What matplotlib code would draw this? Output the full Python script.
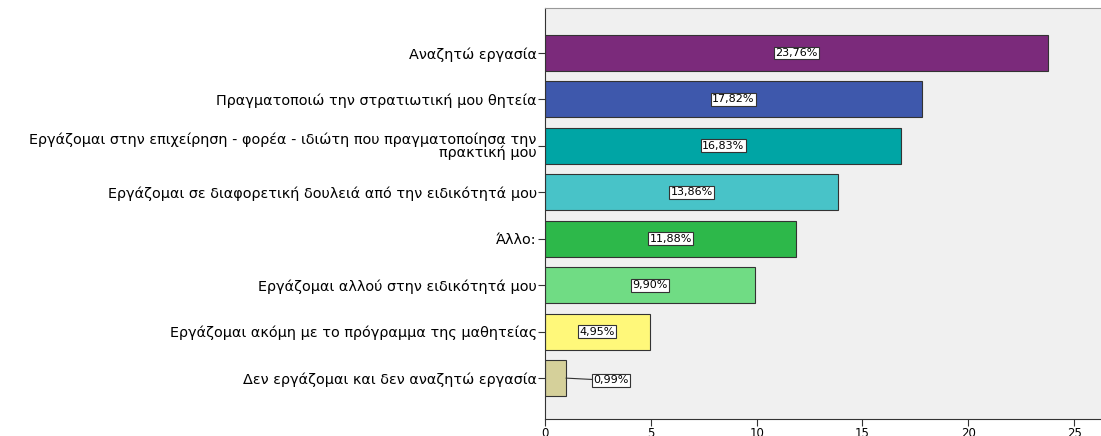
import numpy as np
import matplotlib.pyplot as plt

plt.rcParams['font.family'] = ['DejaVu Sans']

categories = [
    'Αναζητώ εργασία',
    'Πραγματοποιώ την στρατιωτική μου θητεία',
    'Εργάζομαι στην επιχείρηση - φορέα - ιδιώτη που πραγματοποίησα την\nπρακτική μου',
    'Εργάζομαι σε διαφορετική δουλειά από την ειδικότητά μου',
    'Άλλο:',
    'Εργάζομαι αλλού στην ειδικότητά μου',
    'Εργάζομαι ακόμη με το πρόγραμμα της μαθητείας',
    'Δεν εργάζομαι και δεν αναζητώ εργασία',
]
values = [23.76, 17.82, 16.83, 13.86, 11.88, 9.90, 4.95, 0.99]
labels = ['23,76%', '17,82%', '16,83%', '13,86%', '11,88%', '9,90%', '4,95%', '0,99%']
colors = ['#7b2a7b', '#3e58ac', '#00a5a5', '#48c3c8', '#2db84a',
          '#70dc84', '#fff87a', '#d5d09a']
xticks = [0, 5, 10, 15, 20, 25]

fig = plt.figure(figsize=(11.01, 4.36), dpi=100)
ax = fig.add_axes([0.495, 0.039, 0.505, 0.943])
ax.set_facecolor('#f0f0f0')

y = np.arange(len(categories))
ax.barh(y, values, height=0.78, color=colors, edgecolor='#333333', linewidth=0.8, zorder=2)

box = dict(boxstyle='square,pad=0.12', facecolor='white', edgecolor='#333333', linewidth=0.8)
for yi, v, lab in zip(y, values, labels):
    if v < 3:
        # small bar: label sits outside with a leader line
        ax.annotate(lab, xy=(v, yi), xytext=(v + 1.3, yi + 0.05), fontsize=8,
                    ha='left', va='center', bbox=box,
                    arrowprops=dict(arrowstyle='-', color='#333333', lw=0.8,
                                    shrinkA=0, shrinkB=0), zorder=3)
    else:
        ax.text(v / 2, yi, lab, fontsize=8, ha='center', va='center', bbox=box, zorder=3)

ax.set_yticks(y)
ax.set_yticklabels(categories, fontsize=10.4, linespacing=0.85)
ax.set_ylim(len(categories) - 1 + 0.88, -0.97)
ax.set_xlim(0, 26.27)
ax.set_xticks(xticks)
ax.set_xticklabels([str(t) for t in xticks], fontsize=8.5)
ax.tick_params(axis='both', length=5, width=0.8, color='#333333', pad=1)

ax.spines['right'].set_visible(False)
ax.spines['top'].set_color('#999999')
ax.spines['left'].set_color('#333333')
ax.spines['bottom'].set_color('#333333')

fig.savefig('out.png', dpi=100)
